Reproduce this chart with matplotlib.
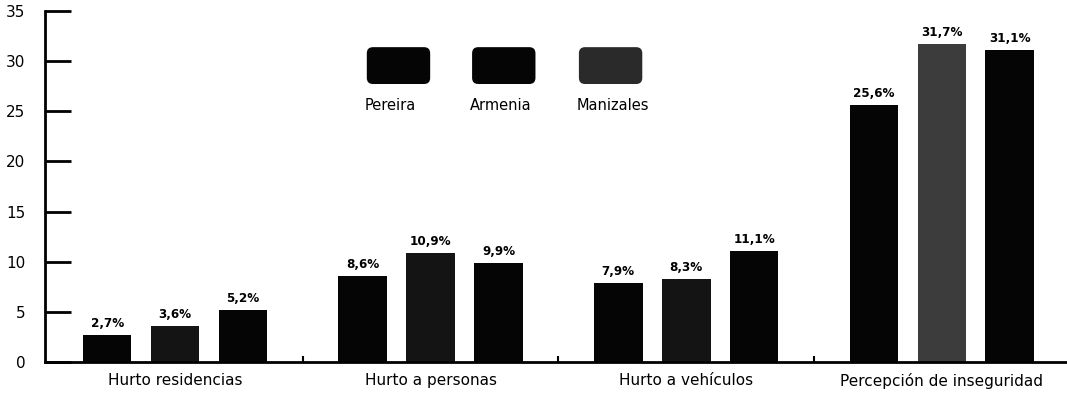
import matplotlib.pyplot as plt
import numpy as np
from matplotlib.patches import FancyBboxPatch

categories = ['Hurto residencias', 'Hurto a personas', 'Hurto a vehículos', 'Percepción de inseguridad']
cities = ['Pereira', 'Armenia', 'Manizales']
pereira = [2.7, 8.6, 7.9, 25.6]
armenia = [3.6, 10.9, 8.3, 31.7]
manizales = [5.2, 9.9, 11.1, 31.1]
yticks = [0, 5, 10, 15, 20, 25, 30, 35]

plt.rcParams['font.family'] = ['DejaVu Sans']

fig = plt.figure(figsize=(10.67, 4.0), dpi=100)
ax = fig.add_axes([0.042, 0.095, 0.958, 0.8775])

x = np.arange(len(categories))
offset = 0.266
width = 0.19
series = [pereira, armenia, manizales]
colors = ['#050505', '#141414', '#050505']
for i, vals in enumerate(series):
    bars = ax.bar(x + (i - 1) * offset, vals, width, color=colors[i])
    if i == 1:
        bars[-1].set_facecolor('#3c3c3c')
    for b, v in zip(bars, vals):
        ax.text(b.get_x() + b.get_width() / 2, v + 0.5, f'{v:.1f}%'.replace('.', ','),
                ha='center', va='bottom', fontsize=9.5, fontweight='bold', fontstretch='condensed')

ax.set_xlim(-0.51, 3.49)
ax.set_ylim(0, 35)
ax.set_yticks(yticks)
ax.tick_params(axis='y', direction='in', length=19, width=2, labelsize=11, pad=14)
ax.set_xticks(x)
ax.set_xticklabels(categories, fontsize=11)
ax.tick_params(axis='x', length=0, pad=8)
ax.set_xticks([0.5, 1.5, 2.5], minor=True)
ax.tick_params(axis='x', which='minor', direction='in', length=4, width=1.5)
for s in ['top', 'right']:
    ax.spines[s].set_visible(False)
ax.spines['left'].set_linewidth(2)
ax.spines['bottom'].set_linewidth(2)

# legend: rounded swatches with labels underneath
leg_x = [0.315, 0.418, 0.5225]
leg_colors = ['#050505', '#050505', '#2a2a2a']
for lx, c, name in zip(leg_x, leg_colors, cities):
    ax.add_patch(FancyBboxPatch((lx, 0.792), 0.062, 0.105,
                                boxstyle='round,pad=0,rounding_size=0.006',
                                transform=ax.transAxes, facecolor=c, edgecolor='none',
                                mutation_aspect=2.9, clip_on=False))
    ax.text(lx - 0.002, 0.732, name, transform=ax.transAxes, fontsize=10.5,
            ha='left', va='center')

fig.savefig('out.png', dpi=100)
